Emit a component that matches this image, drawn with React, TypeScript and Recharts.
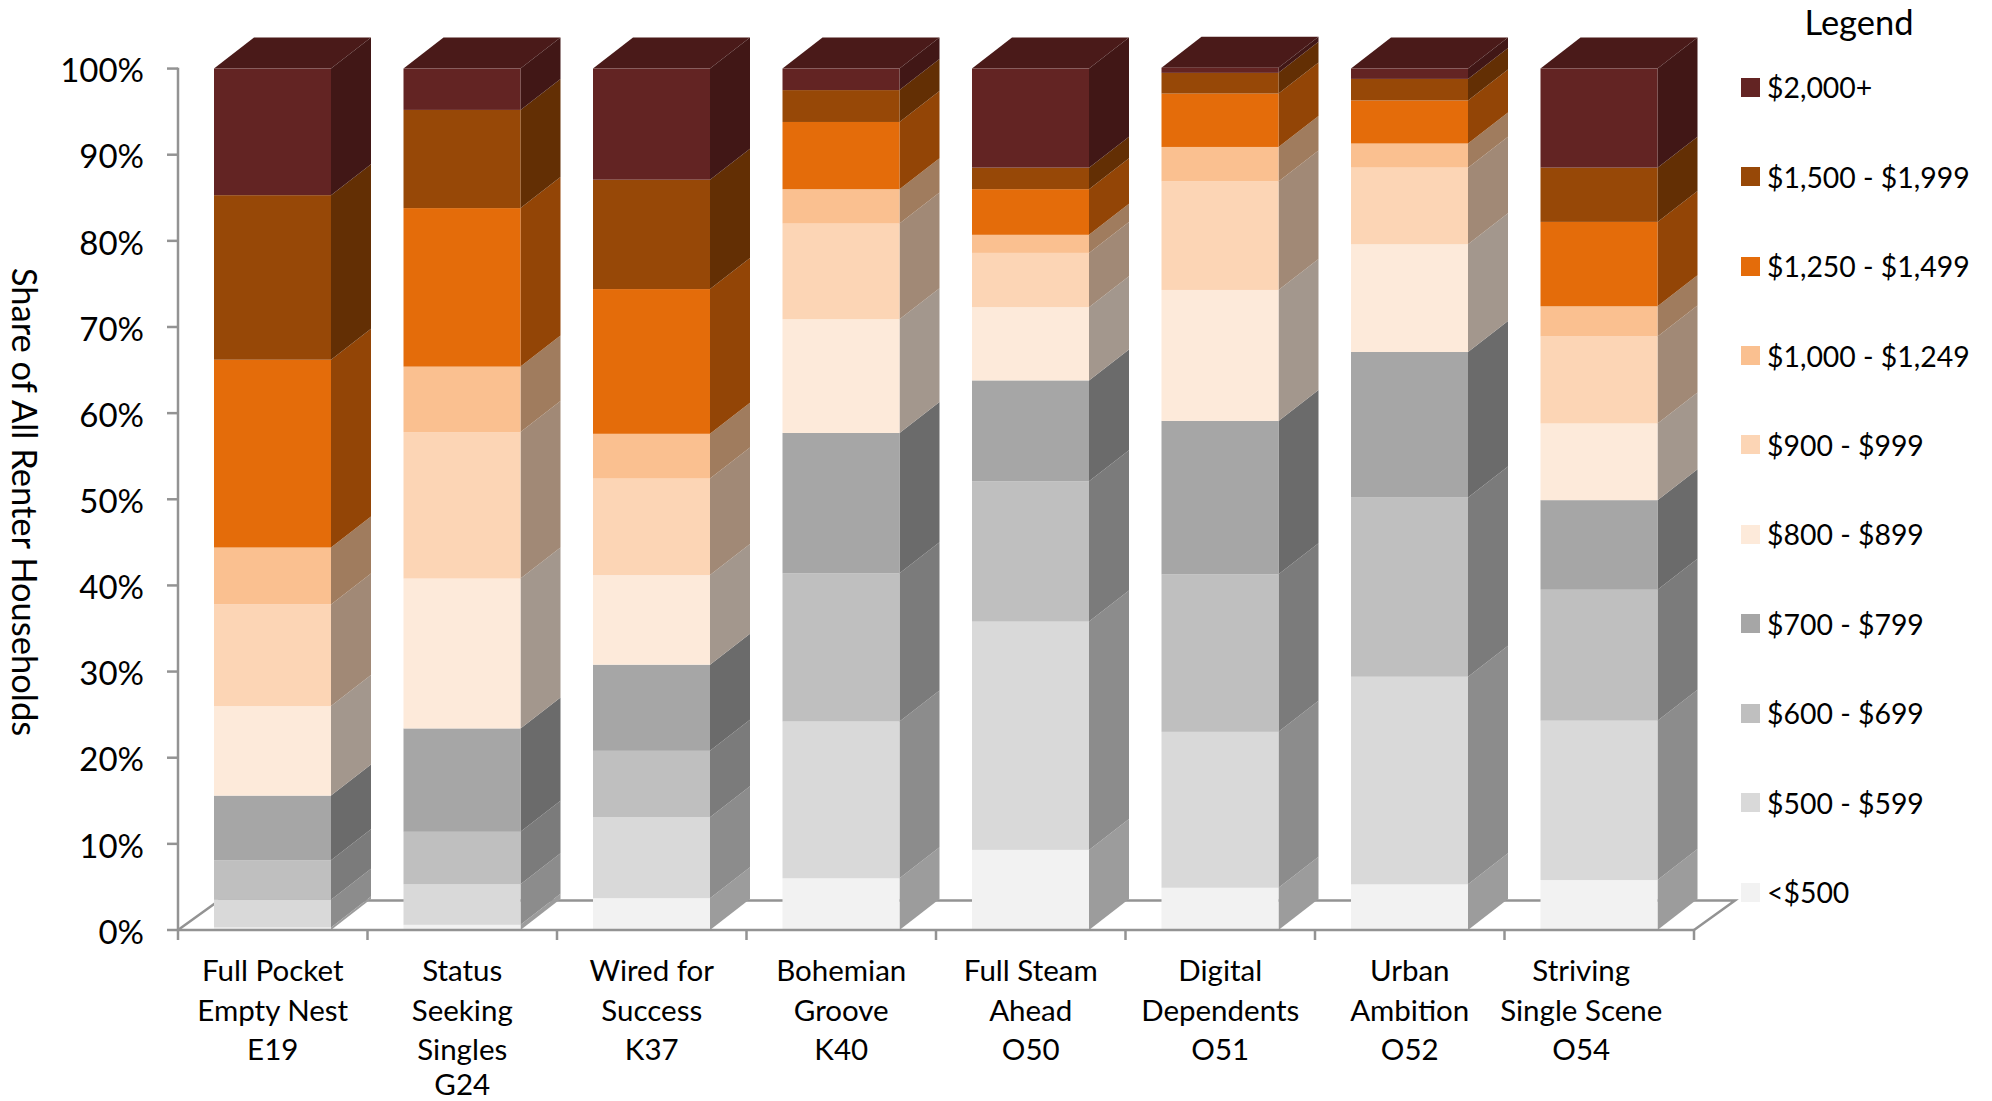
import { Bar, BarChart, Customized, Legend, XAxis, YAxis } from 'recharts';

const segments = ['Full Pocket\nEmpty Nest\nE19', 'Status\nSeeking\nSingles\nG24', 'Wired for\nSuccess\nK37', 'Bohemian\nGroove\nK40', 'Full Steam\nAhead\nO50', 'Digital\nDependents\nO51', 'Urban\nAmbition\nO52', 'Striving\nSingle Scene\nO54'];

const under500 = [0.3, 0.6, 3.7, 6.0, 9.3, 4.9, 5.3, 5.8];
const rent500 = [3.2, 4.7, 9.4, 18.2, 26.5, 18.1, 24.1, 18.5];
const rent600 = [4.6, 6.1, 7.7, 17.2, 16.3, 18.3, 20.8, 15.2];
const rent700 = [7.5, 12.0, 10.0, 16.3, 11.7, 17.8, 16.9, 10.4];
const rent800 = [10.4, 17.4, 10.4, 13.2, 8.5, 15.2, 12.5, 8.9];
const rent900 = [11.8, 17.0, 11.2, 11.1, 6.3, 12.6, 8.9, 10.1];
const rent1000 = [6.6, 7.6, 5.2, 4.0, 2.1, 4.0, 2.8, 3.5];
const rent1250 = [21.8, 18.4, 16.8, 7.8, 5.3, 6.2, 5.0, 9.8];
const rent1500 = [19.1, 11.4, 12.7, 3.7, 2.5, 2.4, 2.5, 6.3];
const rent2000 = [14.7, 4.8, 12.9, 2.5, 11.5, 0.6, 1.2, 11.5];

const seriesNames = ['<$500', '$500 - $599', '$600 - $699', '$700 - $799', '$800 - $899', '$900 - $999', '$1,000 - $1,249', '$1,250 - $1,499', '$1,500 - $1,999', '$2,000+'];
const seriesValues = [under500, rent500, rent600, rent700, rent800, rent900, rent1000, rent1250, rent1500, rent2000];
const frontColors = ['#F2F2F2', '#D9D9D9', '#BFBFBF', '#A6A6A6', '#FDEADA', '#FCD5B5', '#FAC090', '#E46C0A', '#974807', '#632423'];
const sideColors = ['#9C9C9C', '#8C8C8C', '#7B7B7B', '#6B6B6B', '#A3978D', '#A18976', '#A07C5E', '#934506', '#632F04', '#411716'];
const topColor = '#4A1A19';
const yTicks = [0, 10, 20, 30, 40, 50, 60, 70, 80, 90, 100];

const data = segments.map((name, i) => {
  const row: Record<string, string | number> = { name };
  seriesNames.forEach((s, j) => {
    row[s] = seriesValues[j][i];
  });
  return row;
});

const WIDTH = 1992;
const HEIGHT = 1101;
const PLOT_LEFT = 178;
const PLOT_RIGHT = 1694;
const PLOT_TOP = 67.7;
const PLOT_BOTTOM = 930;
const DEPTH_X = 40;
const DEPTH_Y = 31;
const AXIS_COLOR = '#939393';
const FONT = 'Lato, sans-serif';
const STEP = (PLOT_RIGHT - PLOT_LEFT) / segments.length;

// front face + side face, the last series also gets the top face
const makeBarShape = (front: string, side: string, withTop: boolean) => (props: any) => {
  const { x, y, width, height } = props;
  return (
    <g>
      {withTop && (
        <polygon
          points={`${x},${y} ${x + DEPTH_X},${y - DEPTH_Y} ${x + width + DEPTH_X},${y - DEPTH_Y} ${x + width},${y}`}
          fill={topColor}
        />
      )}
      <polygon
        points={`${x + width},${y} ${x + width + DEPTH_X},${y - DEPTH_Y} ${x + width + DEPTH_X},${y + height - DEPTH_Y} ${x + width},${y + height}`}
        fill={side}
      />
      <rect x={x} y={y} width={width} height={height} fill={front} />
    </g>
  );
};

const CategoryTick = (props: any) => {
  const { x, payload, index } = props;
  const lines: string[] = String(payload.value).split('\n');
  const left = x - STEP / 2;
  const isLast = index === segments.length - 1;
  // the last label sits a bit left of its category in the original
  const labelX = isLast ? x - 18 : x;
  return (
    <g>
      <line x1={left} x2={left} y1={PLOT_BOTTOM} y2={PLOT_BOTTOM + 10} stroke={AXIS_COLOR} strokeWidth={2.5} />
      {isLast && (
        <line x1={x + STEP / 2} x2={x + STEP / 2} y1={PLOT_BOTTOM} y2={PLOT_BOTTOM + 10} stroke={AXIS_COLOR} strokeWidth={2.5} />
      )}
      {lines.map((line, i) => (
        <text
          key={line}
          x={labelX}
          y={Math.min(PLOT_BOTTOM + 51 + i * 39.6, 1095)}
          textAnchor="middle"
          fontFamily={FONT}
          fontSize={29.5}
          fill="#000"
        >
          {line}
        </text>
      ))}
    </g>
  );
};

// the 3D floor behind the bars
const Floor = () => (
  <polyline
    points={`${PLOT_LEFT},${PLOT_BOTTOM} ${PLOT_LEFT + 41},${PLOT_BOTTOM - 29.5} ${PLOT_RIGHT + 41},${PLOT_BOTTOM - 29.5} ${PLOT_RIGHT},${PLOT_BOTTOM}`}
    fill="none"
    stroke={AXIS_COLOR}
    strokeWidth={2.5}
  />
);

const LegendContent = (props: any) => {
  const items = [...(props.payload ?? [])].reverse();
  return (
    <div style={{ fontFamily: FONT, color: '#000', width: 250 }}>
      {items.map((item: any) => (
        <div key={item.value} style={{ height: 89.45, display: 'flex', alignItems: 'center', fontSize: 28.4, lineHeight: '32px' }}>
          <span style={{ width: 19, height: 19, background: item.color, marginRight: 7, flex: 'none' }} />
          {item.value}
        </div>
      ))}
    </div>
  );
};

export default function App() {
  return (
    <div style={{ position: 'absolute', left: 0, top: 0, width: WIDTH, height: HEIGHT, background: '#fff' }}>
      <BarChart
        width={WIDTH}
        height={HEIGHT}
        data={data}
        barSize={117}
        margin={{ top: PLOT_TOP, right: WIDTH - PLOT_RIGHT, bottom: 0, left: 0 }}
      >
        <Customized component={Floor} />
        <XAxis
          dataKey="name"
          height={HEIGHT - PLOT_BOTTOM}
          interval={0}
          tickLine={false}
          axisLine={{ stroke: AXIS_COLOR, strokeWidth: 2.5 }}
          tick={<CategoryTick />}
        />
        <YAxis
          width={PLOT_LEFT}
          domain={[0, 100]}
          ticks={yTicks}
          tickFormatter={(v: number) => `${v}%`}
          tickSize={11}
          tickMargin={23}
          tick={{ fill: '#000', fontSize: 33, fontFamily: FONT, dy: 2 }}
          axisLine={{ stroke: AXIS_COLOR, strokeWidth: 2.5 }}
          tickLine={{ stroke: AXIS_COLOR, strokeWidth: 2.5 }}
        />
        {seriesNames.map((s, j) => (
          <Bar
            key={s}
            dataKey={s}
            stackId="rent"
            fill={frontColors[j]}
            isAnimationActive={false}
            shape={makeBarShape(frontColors[j], sideColors[j], j === seriesNames.length - 1)}
          />
        ))}
        <Legend
          layout="vertical"
          align="center"
          verticalAlign="middle"
          itemSorter={null}
          content={<LegendContent />}
          wrapperStyle={{ position: 'absolute', left: 1741, top: 42.5, width: 250 }}
        />
      </BarChart>
      <div style={{ position: 'absolute', left: 1759, top: 2, width: 200, textAlign: 'center', fontFamily: FONT, fontSize: 34.5, lineHeight: '40px', color: '#000' }}>
        Legend
      </div>
      <div
        style={{
          position: 'absolute',
          left: 25,
          top: 502,
          transform: 'translate(-50%, -50%) rotate(90deg)',
          whiteSpace: 'nowrap',
          fontFamily: FONT,
          fontSize: 34.5,
          color: '#000',
        }}
      >
        Share of All Renter Households
      </div>
    </div>
  );
}
